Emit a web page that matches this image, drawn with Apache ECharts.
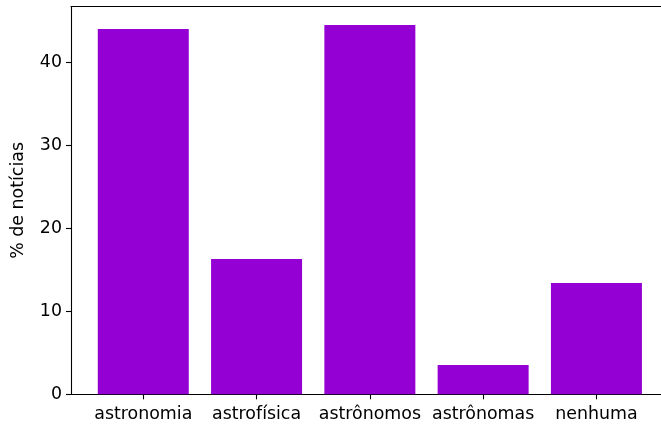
<!DOCTYPE html>
<html>
<head>
<meta charset="utf-8">
<script src="https://cdn.jsdelivr.net/npm/echarts@6/dist/echarts.min.js"></script>
<style>
html,body{margin:0;padding:0;background:#fff;}
#c{width:661px;height:428px;}
</style>
</head>
<body>
<div id="c"></div>
<script>
const categories = ['astronomia', 'astrofísica', 'astrônomos', 'astrônomas', 'nenhuma'];
const values = [43.97, 16.3, 44.45, 3.53, 13.4];
const yTicks = [0, 10, 20, 30, 40];
const yName = '% de notícias';

const positions = categories.map((c, i) => i);
const chart = echarts.init(document.getElementById('c'), null, {renderer: 'canvas'});
const font = 'DejaVu Sans';
const line = {color: '#000', width: 1.1};
chart.setOption({
  animation: false,
  backgroundColor: '#fff',
  grid: {left: 71, right: 0, top: 6.5, bottom: 33.7},
  xAxis: [{
    type: 'value',
    min: -0.638, max: 4.57,
    splitLine: {show: false},
    axisLine: {show: true, onZero: false, lineStyle: line},
    axisTick: {show: true, inside: false, length: 5, lineStyle: line, customValues: positions},
    axisLabel: {
      customValues: positions,
      formatter: v => categories[Math.round(v)],
      fontFamily: font, fontSize: 17.4, color: '#000', margin: 12
    }
  }, {
    type: 'value', position: 'top',
    min: -0.638, max: 4.57,
    splitLine: {show: false},
    axisLine: {show: true, onZero: false, lineStyle: line},
    axisTick: {show: false}, axisLabel: {show: false}
  }],
  yAxis: {
    type: 'value',
    min: 0, max: 46.68,
    name: yName,
    nameLocation: 'middle',
    nameGap: 44,
    nameTextStyle: {fontFamily: font, fontSize: 17.4, color: '#000'},
    splitLine: {show: false},
    axisLine: {show: true, onZero: false, lineStyle: line},
    axisTick: {show: true, inside: false, length: 5, lineStyle: line, customValues: yTicks},
    axisLabel: {customValues: yTicks, fontFamily: font, fontSize: 17.4, color: '#000', margin: 9}
  },
  series: [{
    type: 'bar',
    xAxisIndex: 0,
    data: positions.map((p, i) => [p, values[i]]),
    barWidth: 91,
    itemStyle: {color: '#9400D3'}
  }]
});
</script>
</body>
</html>
